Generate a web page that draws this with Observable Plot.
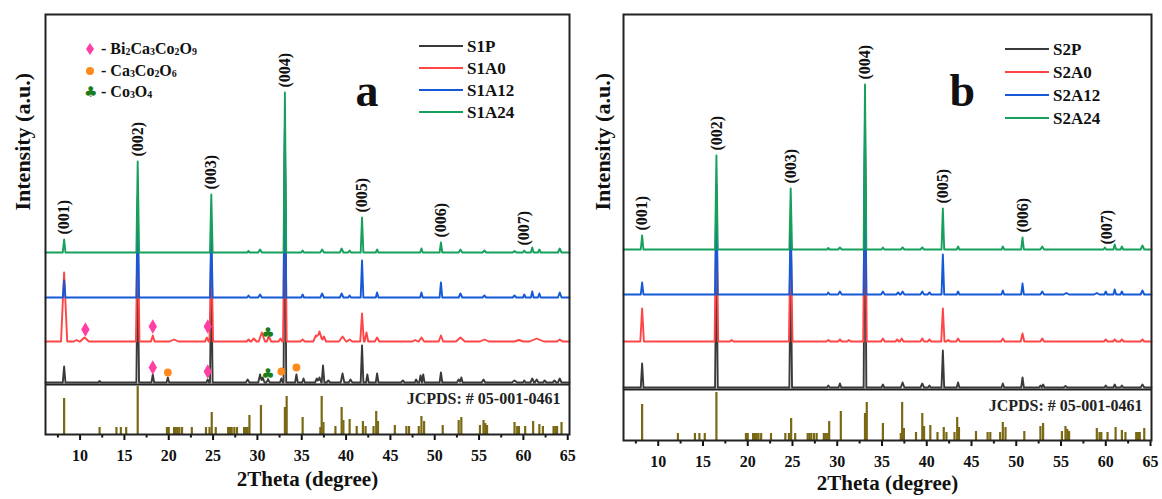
<!DOCTYPE html>
<html><head><meta charset="utf-8">
<script src="https://cdn.jsdelivr.net/npm/d3@7"></script>
<script src="https://cdn.jsdelivr.net/npm/@observablehq/plot@0.6"></script>
<style>
body{margin:0;background:#fff;}
#wrap{position:relative;width:1162px;height:499px;overflow:hidden;font-family:"Liberation Serif","Times New Roman",serif;font-weight:bold;color:#111;}
.panel{position:absolute;top:0;}
.lg{position:absolute;white-space:nowrap;line-height:1;transform:translateY(-50%);}
.ln{position:absolute;height:2.5px;}
sub{font-size:0.62em;vertical-align:-0.12em;}
</style></head><body><div id="wrap"></div>
<script>
// ---------- shared data ----------
const xTicks = [10,15,20,25,30,35,40,45,50,55,60,65];
const xMinorTicks = [7.5,12.5,17.5,22.5,27.5,32.5,37.5,42.5,47.5,52.5,57.5,62.5];
const hklLabels = ["(001)","(002)","(003)","(004)","(005)","(006)","(007)"];
const hklPos = [8.2,16.5,24.8,33.1,41.8,50.7,60.1];
const colors = ["#3a3a3a","#ff4545","#1559d6","#17a05c"];
const jcpdsPos = [8.2,12.2,14.1,14.6,15.2,16.5,19.8,20.0,20.6,20.8,21.0,21.2,21.5,22.6,24.2,24.6,24.85,25.3,26.7,26.9,27.1,27.4,27.7,28.5,28.7,28.9,29.1,30.4,33.1,33.3,35.1,37.1,37.25,37.45,38.8,39.5,39.7,40.4,41.2,41.9,42.2,43.1,43.4,43.6,45.5,46.8,47.1,48.2,48.5,48.8,50.9,52.7,53.0,55.1,55.5,55.7,55.9,59.0,59.3,59.5,60.2,61.1,61.8,62.2,63.4,63.6,63.8,64.3];
const jcpdsInt = [36,7,7,7,7,48,7,7,7,7,7,7,7,7,7,7,22,7,7,7,7,7,7,7,7,7,19,29,27,38,17,7,38,12,8,27,14,15,8,13,8,8,23,13,9,8,8,8,18,13,9,14,17,9,14,11,9,12,8,8,8,13,10,8,8,8,8,12];
const jcpdsLabel = "JCPDS: # 05-001-0461";

// ---------- panel a data: [2theta, intensity, half-width] ----------
const seriesA = ["S1P","S1A0","S1A12","S1A24"];
const offsetsA = [52, 93, 137, 182];
const peaksS1P = [[8.2,16,.15],[12.2,1.5,.15],[16.5,130,.15],[18.2,8,.15],[19.9,5,.15],[24.4,3,.15],[24.8,110,.15],[28.9,3,.2],[30.3,8,.2],[30.6,5,.2],[31.2,3,.2],[32.7,4,.15],[33.1,250,.15],[34.4,8,.15],[35.2,4,.15],[36.7,4,.2],[37.0,5,.2],[37.4,17,.15],[38.0,2,.2],[39.6,9,.2],[40.5,3,.2],[41.8,37,.15],[42.4,8,.15],[43.5,9,.15],[46.4,2,.2],[47.9,3,.15],[48.4,7,.15],[48.7,8,.15],[50.7,10,.15],[52.7,3,.2],[53.0,5,.15],[55.5,3,.2],[59.0,2,.3],[60.1,2,.15],[61.0,4,.2],[61.5,3,.2],[62.4,2,.2],[63.5,2,.2],[64.1,4,.2]];
const peaksS1A0 = [[8.2,69,.35],[9.6,1.5,.3],[10.5,4,.5],[16.5,120,.2],[18.2,6,.2],[20.6,2,.5],[24.3,4,.2],[24.8,100,.2],[29.0,2,.2],[29.6,3,.3],[30.5,9,.35],[31.3,5,.25],[32.6,3,.2],[33.1,200,.2],[35.1,2,.25],[36.6,6,.3],[37.0,10,.35],[37.5,5,.25],[39.6,5,.4],[40.4,2,.3],[41.8,28,.2],[42.3,9,.2],[43.5,4,.25],[47.8,1.5,.3],[48.5,4,.3],[50.7,6,.25],[52.9,4,.5],[55.6,2,.5],[59.5,1.5,.5],[61.5,3,.8],[64.1,2,.3]];
const peaksS1A12 = [[8.2,17,.15],[16.5,100,.15],[24.8,70,.15],[29.0,2,.15],[30.3,3,.2],[33.1,170,.15],[35.1,3,.15],[37.3,4,.2],[39.5,4,.2],[40.4,2,.15],[41.8,37,.15],[43.5,5,.15],[48.5,5,.15],[50.7,15,.15],[52.9,4,.2],[55.6,2,.2],[59.0,2,.2],[60.1,3,.15],[61.0,6,.15],[61.8,4,.15],[64.1,5,.2]];
const peaksS1A24 = [[8.2,13,.15],[16.5,91,.15],[24.8,58,.15],[29.0,1.5,.15],[30.3,3,.2],[33.1,160,.15],[35.1,2,.15],[37.3,3,.2],[39.5,4,.2],[40.4,2,.15],[41.8,35,.15],[43.5,3,.15],[48.5,4,.15],[50.7,10,.15],[52.9,3,.2],[55.6,2,.2],[59.0,1.5,.2],[60.1,2,.15],[61.0,5,.15],[61.8,3,.15],[64.1,4,.2]];
const sepA = 50;
// phase markers (panel a)
const bccoPos = [10.6,18.2,24.4,18.2,24.4];
const bccoY = [105,108,108,67,63];
const ccoPos = [19.9,32.7,34.4];
const ccoY = [62,63,67];
const coPos = [31.2,31.2];
const coY = [101,60];

// ---------- panel b data ----------
const seriesB = ["S2P","S2A0","S2A12","S2A24"];
const offsetsB = [53, 99, 146, 191];
const peaksS2P = [[8.2,24,.15],[16.5,150,.15],[24.8,130,.15],[29.0,2,.15],[30.3,4,.15],[33.1,250,.15],[35.1,3,.15],[37.3,5,.2],[39.5,4,.2],[40.3,2,.15],[41.8,37,.15],[43.5,5,.15],[48.5,4,.15],[50.7,10,.15],[52.7,2,.15],[53.0,3,.15],[55.5,1.5,.2],[60.0,2,.15],[61.0,3,.15],[61.8,2,.15],[64.1,3,.2]];
const peaksS2A0 = [[8.2,33,.2],[16.5,140,.2],[18.2,1.5,.2],[24.8,110,.2],[29.0,1.5,.2],[30.3,2,.2],[31.3,1.5,.2],[33.1,200,.2],[35.1,3,.2],[36.7,2,.2],[37.2,3,.2],[39.5,3,.2],[40.3,2,.2],[41.8,33,.18],[42.4,1.5,.2],[43.5,3,.2],[48.5,3,.2],[50.7,8,.2],[52.9,3,.2],[60.0,2,.2],[61.0,2,.2],[61.8,2,.2],[64.1,2,.2]];
const peaksS2A12 = [[8.2,12,.15],[16.5,110,.15],[24.8,75,.15],[29.0,2,.15],[30.3,3,.2],[33.1,180,.15],[35.1,3,.2],[36.8,2,.2],[37.3,3,.2],[39.5,3,.2],[40.3,2,.2],[41.8,40,.15],[43.5,3,.15],[48.5,4,.15],[50.7,11,.15],[52.9,3,.2],[55.6,1.5,.3],[59.0,1.5,.3],[60.0,3,.15],[61.0,5,.15],[61.8,3,.15],[64.1,4,.2]];
const peaksS2A24 = [[8.2,14,.15],[16.5,94,.15],[24.8,61,.15],[29.0,1.5,.15],[30.3,2,.2],[33.1,165,.15],[35.1,2,.15],[37.3,2,.2],[39.5,2,.2],[41.8,41,.15],[43.5,3,.15],[48.5,3,.15],[50.7,12,.15],[52.9,3,.2],[59.9,2,.15],[61.0,5,.15],[61.8,3,.15],[64.1,4,.2]];
const sepB = 51;

const phaseNames = [["- Bi","2","Ca","3","Co","2","O","9"],["- Ca","3","Co","2","O","6"],["- Co","3","O","4"]];

// ---------- helpers ----------
const FONT = '"Liberation Serif","Times New Roman",serif';
function intensityAt(peaks, x) {
  return d3.sum(peaks, ([p,h,w]) => Math.max(0, h * (1 - Math.abs(x - p) / w)));
}
function pattern(peaks, base, domain) {
  const knots = new Set(domain);
  for (const [p,,w] of peaks) { knots.add(p - w); knots.add(p); knots.add(p + w); }
  return [...knots].filter(x => x >= domain[0] && x <= domain[1]).sort((a,b) => a - b)
    .map(x => ({x, y: base + intensityAt(peaks, x)}));
}
const jcpds = jcpdsPos.map((x,i) => ({x, h: jcpdsInt[i]}));

function panel({domain, yMax, mL, mR, mB, allPeaks, offsets, sep, letter, letterDx, jcpdsDy, ylabDx, ylabDy, xlabDy, extra}) {
  const green = allPeaks[3], gBase = offsets[3];
  const hkl = hklLabels.map((t,i) => ({t, x: hklPos[i], y: gBase + intensityAt(green, hklPos[i])}));
  const marks = [
    Plot.ruleX(jcpds, {x: "x", y1: 0, y2: "h", stroke: "#7a6914", strokeWidth: 2.2}),
    Plot.ruleY([sep], {stroke: "#222", strokeWidth: 1.8}),
    ...allPeaks.map((pk,i) => Plot.line(pattern(pk, offsets[i], domain), {x: "x", y: "y", stroke: colors[i], strokeWidth: 1.9, strokeLinejoin: "round"})),
    ...(extra || []),
    Plot.text(hkl, {x: "x", y: "y", text: "t", rotate: -90, textAnchor: "start", dy: -5, fontSize: 16, fontWeight: "bold", fontFamily: FONT, fill: "#111"}),
    Plot.text([letter], {frameAnchor: "top-left", dx: letterDx, dy: 59, fontSize: 46, fontWeight: "bold", fontFamily: FONT, fill: "#111"}),
    Plot.text([jcpdsLabel], {frameAnchor: "bottom-right", textAnchor: "end", dx: -9, dy: jcpdsDy, fontSize: 16, fontWeight: "bold", fontFamily: FONT, fill: "#222"}),
    Plot.text(["Intensity (a.u.)"], {frameAnchor: "left", rotate: -90, dx: ylabDx, dy: ylabDy, fontSize: 22, fontWeight: "bold", fontFamily: FONT, fill: "#111"}),
    Plot.text(["2Theta (degree)"], {frameAnchor: "bottom", dy: xlabDy, fontSize: 21, fontWeight: "bold", fontFamily: FONT, fill: "#111"}),
    Plot.axisX({ticks: xMinorTicks, tickSize: 3.5, tickFormat: () => "", strokeWidth: 2, label: null}),
    Plot.axisX({ticks: xTicks, tickSize: 6, tickPadding: 9, strokeWidth: 2, label: null, fontSize: 16, fontWeight: "bold", fontFamily: FONT}),
    Plot.frame({stroke: "#222", strokeWidth: 2})
  ];
  return Plot.plot({
    width: 581, height: 499, marginLeft: mL, marginRight: mR, marginTop: 14, marginBottom: mB,
    x: {domain, axis: null}, y: {domain: [0, yMax], axis: null},
    style: {fontFamily: FONT, fontWeight: "bold", fontSize: "16px", color: "#111", background: "transparent", overflow: "visible"},
    marks
  });
}

const markersA = [
  Plot.dot(bccoPos.map((x,i) => ({x, y: bccoY[i]})), {x: "x", y: "y", symbol: "diamond", r: 4.4, fill: "#ff3fa3"}),
  Plot.dot(ccoPos.map((x,i) => ({x, y: ccoY[i]})), {x: "x", y: "y", r: 3.9, fill: "#ff8a1c"}),
  Plot.text(coPos.map((x,i) => ({x, y: coY[i]})), {x: "x", y: "y", text: () => "\u2663", fontSize: 15, fill: "#1b7d1b", fontFamily: "DejaVu Sans"})
];

const wrap = document.getElementById("wrap");
const pa = panel({domain: [6.1, 65.2], yMax: 420, mL: 45, mR: 12, mB: 65,
  allPeaks: [peaksS1P, peaksS1A0, peaksS1A12, peaksS1A24], offsets: offsetsA, sep: sepA,
  letter: "a", letterDx: 310, jcpdsDy: -31, ylabDx: -23, ylabDy: -14, xlabDy: 51, extra: markersA});
const pb = panel({domain: [6.12, 65.11], yMax: 426, mL: 42, mR: 11, mB: 59,
  allPeaks: [peaksS2P, peaksS2A0, peaksS2A12, peaksS2A24], offsets: offsetsB, sep: sepB,
  letter: "b", letterDx: 949 - 623, jcpdsDy: -30, ylabDx: -21, ylabDy: -17, xlabDy: 49});
const da = document.createElement("div"); da.className = "panel"; da.style.left = "0px"; da.appendChild(pa);
const db = document.createElement("div"); db.className = "panel"; db.style.left = "581px"; db.appendChild(pb);
wrap.appendChild(da); wrap.appendChild(db);

// ---------- legends ----------
function lineLegend(names, lineX, labelX, rows) {
  names.forEach((n,i) => {
    const l = document.createElement("div"); l.className = "ln";
    l.style.cssText = `left:${lineX}px;top:${rows[i]-1.25}px;width:${labelX-lineX-4}px;background:${colors[i]}`;
    wrap.appendChild(l);
    const t = document.createElement("div"); t.className = "lg";
    t.style.cssText = `left:${labelX}px;top:${rows[i]}px;font-size:17px;`;
    t.textContent = n; wrap.appendChild(t);
  });
}
lineLegend(seriesA, 419, 467, [46,68,90,112]);
lineLegend(seriesB, 1005, 1053, [49,72,95,118]);

const symbols = [
  '<svg width="12" height="14" viewBox="-6 -7 12 14"><path d="M0,-6L4,0L0,6L-4,0Z" fill="#ff3fa3"/></svg>',
  '<svg width="12" height="12" viewBox="-6 -6 12 12"><circle r="4" fill="#ff8a1c"/></svg>',
  '<span style="font-family:DejaVu Sans;font-size:15px;color:#1b7d1b">\u2663</span>'
];
const legRows = [49, 70.5, 91.5];
phaseNames.forEach((parts,i) => {
  const s = document.createElement("div"); s.className = "lg";
  s.style.cssText = `left:84px;top:${legRows[i]}px;display:flex;align-items:center;`;
  s.innerHTML = symbols[i]; wrap.appendChild(s);
  const t = document.createElement("div"); t.className = "lg";
  t.style.cssText = `left:101px;top:${legRows[i]}px;font-size:16px;`;
  t.innerHTML = parts.map((p,k) => k % 2 ? `<sub>${p}</sub>` : p).join("");
  wrap.appendChild(t);
});
</script></body></html>
